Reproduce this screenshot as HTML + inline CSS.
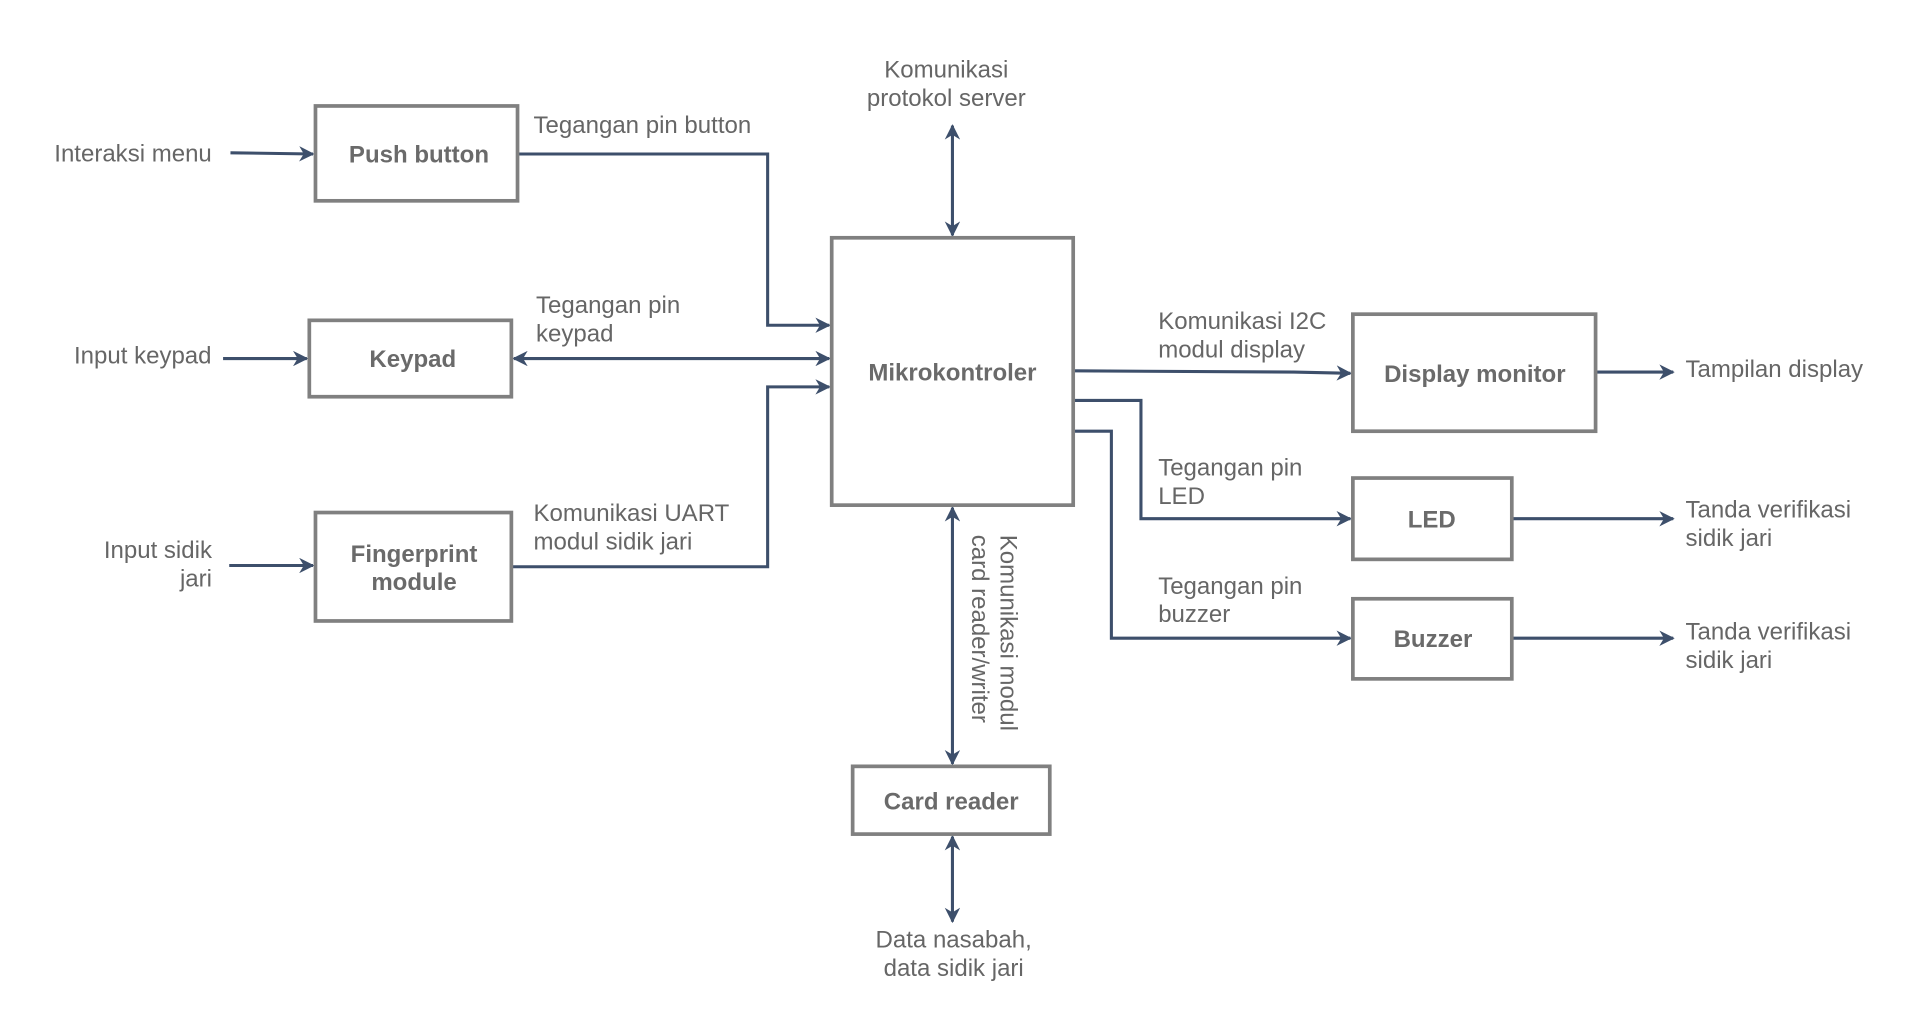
<!DOCTYPE html>
<html><head><meta charset="utf-8"><style>
html,body{margin:0;padding:0;background:#fff;}
svg{display:block}
text{font-family:"Liberation Sans",Arial,sans-serif;fill:#666;font-size:19.5px}
.b{font-weight:bold;fill:#6a6a6a}
.box{fill:#fff;stroke:#808080;stroke-width:3}
.ln{fill:none;stroke:#3d4f6b;stroke-width:2.5}
</style></head><body>
<svg width="1932" height="1030" viewBox="0 0 1568 836" xmlns="http://www.w3.org/2000/svg">
<defs>
<marker id="a" viewBox="0 0 10 10" refX="9" refY="5" markerWidth="5" markerHeight="5" orient="auto-start-reverse" markerUnits="strokeWidth">
<path d="M0,0 L10,5 L0,10 L3,5 z" fill="#3d4f6b"/></marker>
</defs>
<path class="ln" d="M187,124 L254,125" marker-end="url(#a)"/>
<path class="ln" d="M420,125 L623,125 L623,264 L673,264" marker-end="url(#a)"/>
<path class="ln" d="M417,291 L673,291" marker-start="url(#a)" marker-end="url(#a)"/>
<path class="ln" d="M181,291 L249,291" marker-end="url(#a)"/>
<path class="ln" d="M186,459 L254,459" marker-end="url(#a)"/>
<path class="ln" d="M415,460 L623,460 L623,314 L673,314" marker-end="url(#a)"/>
<path class="ln" d="M773,102 L773,191" marker-start="url(#a)" marker-end="url(#a)"/>
<path class="ln" d="M773,412 L773,620" marker-start="url(#a)" marker-end="url(#a)"/>
<path class="ln" d="M773,679 L773,748" marker-start="url(#a)" marker-end="url(#a)"/>
<path class="ln" d="M871,301 L1050,302 L1096,303" marker-end="url(#a)"/>
<path class="ln" d="M871,325 L926,325 L926,421 L1096,421" marker-end="url(#a)"/>
<path class="ln" d="M871,350 L902,350 L902,518 L1096,518" marker-end="url(#a)"/>
<path class="ln" d="M1295,302 L1358,302" marker-end="url(#a)"/>
<path class="ln" d="M1227,421 L1358,421" marker-end="url(#a)"/>
<path class="ln" d="M1227,518 L1358,518" marker-end="url(#a)"/>
<rect class="box" x="256" y="86" width="164" height="77"/>
<rect class="box" x="251" y="260" width="164" height="62"/>
<rect class="box" x="256" y="416" width="159" height="88"/>
<rect class="box" x="675" y="193" width="196" height="217"/>
<rect class="box" x="1098" y="255" width="197" height="95"/>
<rect class="box" x="1098" y="388" width="129" height="66"/>
<rect class="box" x="1098" y="486" width="129" height="65"/>
<rect class="box" x="692" y="622" width="160" height="55"/>
<g text-anchor="middle">
<text class="b" x="340" y="132">Push button</text>
<text class="b" x="335" y="298">Keypad</text>
<text class="b" x="336" y="456">Fingerprint</text>
<text class="b" x="336" y="479">module</text>
<text class="b" x="773" y="309">Mikrokontroler</text>
<text class="b" x="1197" y="310">Display monitor</text>
<text class="b" x="1162" y="428">LED</text>
<text class="b" x="1163" y="525">Buzzer</text>
<text class="b" x="772" y="657">Card reader</text>
</g>
<text x="44" y="131">Interaksi menu</text>
<text x="60" y="295">Input keypad</text>
<text x="172" y="453" text-anchor="end">Input sidik</text>
<text x="172" y="476" text-anchor="end">jari</text>
<text x="433" y="108">Tegangan pin button</text>
<text x="435" y="254">Tegangan pin</text>
<text x="435" y="277">keypad</text>
<text x="433" y="423">Komunikasi UART</text>
<text x="433" y="446">modul sidik jari</text>
<text x="768" y="63" text-anchor="middle">Komunikasi</text>
<text x="768" y="86" text-anchor="middle">protokol server</text>
<text x="774" y="769" text-anchor="middle">Data nasabah,</text>
<text x="774" y="792" text-anchor="middle">data sidik jari</text>
<text x="940" y="267">Komunikasi I2C</text>
<text x="940" y="290">modul display</text>
<text x="940" y="386">Tegangan pin</text>
<text x="940" y="409">LED</text>
<text x="940" y="482">Tegangan pin</text>
<text x="940" y="505">buzzer</text>
<text x="1368" y="306">Tampilan display</text>
<text x="1368" y="420">Tanda verifikasi</text>
<text x="1368" y="443">sidik jari</text>
<text x="1368" y="519">Tanda verifikasi</text>
<text x="1368" y="542">sidik jari</text>
<g transform="translate(812,434) rotate(90)">
<text x="0" y="0">Komunikasi modul</text>
<text x="0" y="23">card reader/writer</text>
</g>
</svg>
</body></html>
